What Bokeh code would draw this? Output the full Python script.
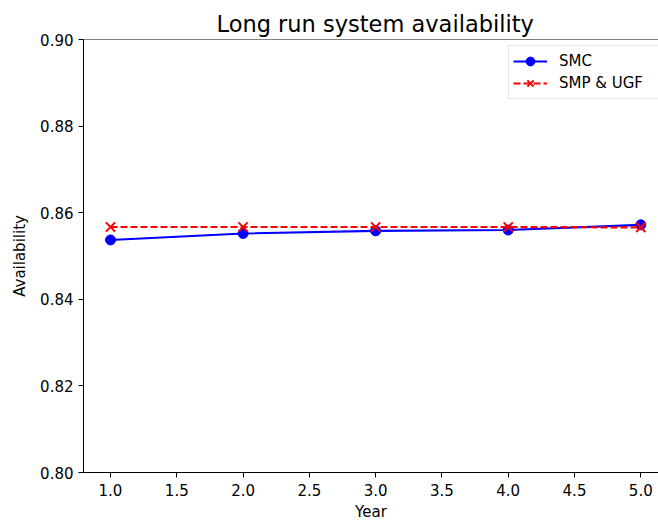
from bokeh.plotting import figure
from bokeh.models import (Range1d, FixedTicker, Span, Legend, LegendItem,
                          NumeralTickFormatter)
from bokeh.embed import file_html
from bokeh.resources import INLINE

# ---- data ----
years = [1, 2, 3, 4, 5]
smc = [0.8537, 0.8552, 0.8558, 0.8560, 0.8572]
smp_ugf = [0.8567, 0.8567, 0.8567, 0.8567, 0.8566]
x_ticks = [1.0, 1.5, 2.0, 2.5, 3.0, 3.5, 4.0, 4.5, 5.0]
y_ticks = [0.80, 0.82, 0.84, 0.86, 0.88, 0.90]
series_names = ["SMC", "SMP & UGF"]

FONT = "DejaVu Sans"
TICK_FS = "15px"

p = figure(width=658, height=523, output_backend="svg", toolbar_location=None,
           x_range=Range1d(0.7963, 5.1335), y_range=Range1d(0.80, 0.90),
           min_border_left=83, min_border_right=0, min_border_top=39,
           min_border_bottom=50, title="Long run system availability")
p.outline_line_color = None
p.xgrid.visible = False
p.ygrid.visible = False

p.title.align = "left"
p.title.offset = 133
p.title.text_font = FONT
p.title.text_font_size = "22.5px"
p.title.text_font_style = "normal"
p.title.text_color = "black"
p.title.standoff = 6

for ax in (p.xaxis[0], p.yaxis[0]):
    ax.axis_line_color = "black"
    ax.axis_line_width = 1
    ax.major_tick_line_color = "black"
    ax.major_tick_out = 5
    ax.major_tick_in = 0
    ax.minor_tick_line_color = None
    ax.major_label_text_font = FONT
    ax.major_label_text_font_size = TICK_FS
    ax.major_label_text_color = "black"
    ax.axis_label_text_font = FONT
    ax.axis_label_text_font_size = TICK_FS
    ax.axis_label_text_font_style = "normal"
    ax.axis_label_text_color = "black"

p.xaxis.ticker = FixedTicker(ticks=x_ticks)
p.yaxis.ticker = FixedTicker(ticks=y_ticks)
p.xaxis.formatter = NumeralTickFormatter(format="0.0")
p.yaxis.formatter = NumeralTickFormatter(format="0.00")
p.xaxis.axis_label = "Year"
p.yaxis.axis_label = "Availability"
p.xaxis.major_label_standoff = 6
p.yaxis.major_label_standoff = 5
p.xaxis.axis_label_standoff = 4
p.yaxis.axis_label_standoff = 8

# top spine
p.add_layout(Span(location=0.90, dimension="width", line_color="black", line_width=1))

l1 = p.line(years, smc, line_color="blue", line_width=2.2)
s1 = p.scatter(years, smc, marker="circle", size=10, fill_color="blue", line_color="blue")
l2 = p.line(years, smp_ugf, line_color="red", line_width=2.2, line_dash="7 3")
s2 = p.scatter(years, smp_ugf, marker="x", size=13, line_color="red", line_width=2)

legend = Legend(items=[LegendItem(label=series_names[0], renderers=[l1, s1]),
                       LegendItem(label=series_names[1], renderers=[l2, s2])],
                location=(425, 373))
legend.glyph_width = 34
legend.glyph_height = 22
legend.label_height = 22
legend.label_width = 97
legend.label_standoff = 12
legend.spacing = 0
legend.padding = 4
legend.margin = 0
legend.label_text_font = FONT
legend.label_text_font_size = TICK_FS
legend.label_text_color = "black"
legend.border_line_color = "#cccccc"
legend.border_line_width = 1
legend.background_fill_alpha = 0.8
p.add_layout(legend, "center")

open("out.html", "w").write(file_html(p, INLINE))
